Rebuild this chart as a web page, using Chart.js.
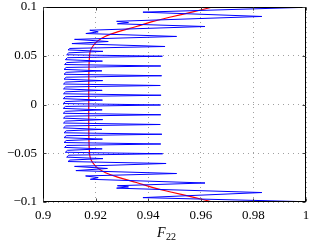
<!DOCTYPE html>
<html>
<head>
<meta charset="utf-8">
<script src="https://cdn.jsdelivr.net/npm/chart.js@4/dist/chart.umd.min.js"></script>
<style>
  html, body { margin: 0; padding: 0; background: #fff; }
  #wrap { width: 316px; height: 250px; }
</style>
</head>
<body>
<div id="wrap"><canvas id="c" width="316" height="250"></canvas></div>
<script>
// axis ticks
const xTicks = [0.9, 0.92, 0.94, 0.96, 0.98, 1];
const xTickLabels = ['0.9', '0.92', '0.94', '0.96', '0.98', '1'];
const yTicks = [-0.1, -0.05, 0, 0.05, 0.1];
const yTickLabels = ['\u22120.1', '\u22120.05', '0', '0.05', '0.1'];

// blue trace (F22, y) from bottom to top
const blueF22 = [
  1.0, 0.938, 0.9832, 0.928, 0.9325, 0.9283, 0.9616, 0.918, 0.921, 0.9162,
  0.9508, 0.9125, 0.9245, 0.912, 0.9468,
  0.9095, 0.9102, 0.9228, 0.909, 0.9098, 0.9455,
  0.9085, 0.9093, 0.9225, 0.9082, 0.909, 0.9448,
  0.908, 0.9088, 0.9226, 0.908, 0.9088, 0.9452,
  0.908, 0.9088, 0.9224, 0.9078, 0.9086, 0.9446,
  0.9078, 0.9086, 0.9227, 0.9078, 0.9086, 0.9448,
  0.9077, 0.9085, 0.9225, 0.9077, 0.9085, 0.9447,
  0.9077, 0.9085, 0.9226, 0.9077, 0.9085, 0.9449,
  0.9078, 0.9086, 0.9225, 0.9078, 0.9086, 0.9446,
  0.9078, 0.9086, 0.9227, 0.908, 0.9088, 0.9451,
  0.908, 0.9088, 0.9224, 0.908, 0.9088, 0.9448,
  0.9082, 0.909, 0.9226, 0.9085, 0.9093, 0.9454,
  0.909, 0.9098, 0.9228, 0.9095, 0.9102, 0.9464,
  0.911, 0.9248, 0.912, 0.9508, 0.9163, 0.921, 0.9178, 0.9616,
  0.9283, 0.9325, 0.928, 0.9832, 0.938, 1.0
];
const blueY = [
  -0.0997, -0.0955, -0.0903, -0.0858, -0.0845, -0.0833, -0.0805, -0.0767, -0.075, -0.0733,
  -0.0708, -0.0678, -0.0656, -0.0635, -0.0605,
  -0.0585, -0.057, -0.0555, -0.054, -0.052, -0.0505,
  -0.049, -0.047, -0.0455, -0.044, -0.042, -0.0405,
  -0.039, -0.037, -0.0355, -0.034, -0.032, -0.0305,
  -0.029, -0.027, -0.0255, -0.024, -0.022, -0.0205,
  -0.019, -0.017, -0.0155, -0.014, -0.012, -0.0105,
  -0.009, -0.007, -0.0055, -0.004, -0.002, -0.0005,
  0.001, 0.003, 0.0045, 0.006, 0.008, 0.0095,
  0.011, 0.013, 0.0145, 0.016, 0.018, 0.0195,
  0.021, 0.023, 0.0245, 0.026, 0.028, 0.0295,
  0.031, 0.033, 0.0345, 0.036, 0.038, 0.0395,
  0.041, 0.043, 0.0445, 0.046, 0.048, 0.0495,
  0.051, 0.053, 0.0545, 0.056, 0.0575, 0.0595,
  0.0625, 0.0646, 0.0668, 0.0698, 0.0728, 0.0745, 0.0762, 0.08,
  0.0828, 0.084, 0.0853, 0.0903, 0.0947, 0.0997
];

// red mean curve
const redF22 = [
  0.9645, 0.957, 0.949, 0.9415, 0.9355, 0.929, 0.9238, 0.9207, 0.919, 0.918, 0.9177,
  0.9175, 0.9174, 0.9174, 0.9174, 0.9175,
  0.9177, 0.918, 0.919, 0.9207, 0.9238, 0.929, 0.9355, 0.9415, 0.949, 0.957, 0.9645
];
const redY = [
  -0.1, -0.095, -0.09, -0.085, -0.08, -0.075, -0.07, -0.065, -0.06, -0.055, -0.05,
  -0.04, -0.02, 0, 0.02, 0.04,
  0.05, 0.055, 0.06, 0.065, 0.07, 0.075, 0.08, 0.085, 0.09, 0.095, 0.1
];

const toPts = (xs, ys) => xs.map((x, i) => ({ x, y: ys[i] }));
const serif = '"Liberation Serif", "DejaVu Serif", serif';

// frame with inward ticks + x label with subscript
const framePlugin = {
  id: 'frame',
  afterDraw(chart) {
    const { ctx, chartArea: a, scales } = chart;
    ctx.save();
    ctx.strokeStyle = '#000';
    ctx.lineWidth = 1;
    ctx.setLineDash([]);
    const L = Math.round(a.left) + 0.5, R = Math.round(a.right) - 0.5;
    const T = Math.round(a.top) + 0.5, B = Math.round(a.bottom) - 0.5;
    ctx.strokeRect(L, T, R - L, B - T);
    ctx.strokeStyle = '#444';
    ctx.beginPath();
    xTicks.forEach(v => {
      const px = Math.round(scales.x.getPixelForValue(v)) + 0.5;
      ctx.moveTo(px, B); ctx.lineTo(px, B - 3);
      ctx.moveTo(px, T); ctx.lineTo(px, T + 3);
    });
    yTicks.forEach(v => {
      const py = Math.round(scales.y.getPixelForValue(v)) + 0.5;
      ctx.moveTo(L, py); ctx.lineTo(L + 3, py);
      ctx.moveTo(R, py); ctx.lineTo(R - 3, py);
    });
    ctx.stroke();
    // axis title F_22
    ctx.fillStyle = '#000';
    ctx.textBaseline = 'alphabetic';
    ctx.font = 'italic 14px ' + serif;
    const fx = 157, fy = 237;
    ctx.fillText('F', fx, fy);
    const w = ctx.measureText('F').width;
    ctx.font = '10px ' + serif;
    ctx.fillText('22', fx + w + 0.5, fy + 3);
    ctx.restore();
  }
};

new Chart(document.getElementById('c'), {
  type: 'scatter',
  data: {
    datasets: [
      {
        data: toPts(blueF22, blueY),
        showLine: true,
        borderColor: '#0000ff',
        borderWidth: 1,
        pointRadius: 0,
        tension: 0
      },
      {
        data: toPts(redF22, redY),
        showLine: true,
        borderColor: '#ff0000',
        borderWidth: 1.2,
        pointRadius: 0,
        tension: 0.4
      }
    ]
  },
  options: {
    responsive: false,
    animation: false,
    layout: { padding: { top: 7, right: 10, left: 0, bottom: 0 } },
    plugins: { legend: { display: false }, tooltip: { enabled: false } },
    scales: {
      x: {
        type: 'linear', min: 0.9, max: 1,
        afterBuildTicks: s => { s.ticks = xTicks.map(v => ({ value: v })); },
        afterFit: s => { s.height = 48; s.paddingLeft = 0; s.paddingRight = 0; },
        ticks: {
          callback: (v) => xTickLabels[xTicks.findIndex(t => Math.abs(t - v) < 1e-9)],
          font: { family: serif, size: 13 }, color: '#000', padding: 6, maxRotation: 0
        },
        grid: { color: '#a0a0a0', lineWidth: 1, drawTicks: false },
        border: { display: false, dash: [1, 4] }
      },
      y: {
        type: 'linear', min: -0.1, max: 0.1,
        afterBuildTicks: s => { s.ticks = yTicks.map(v => ({ value: v })); },
        afterFit: s => { s.width = 43; s.paddingTop = 0; s.paddingBottom = 0; },
        ticks: {
          callback: (v) => yTickLabels[yTicks.findIndex(t => Math.abs(t - v) < 1e-9)],
          font: { family: serif, size: 13 }, color: '#000', padding: 6
        },
        grid: { color: '#a0a0a0', lineWidth: 1, drawTicks: false },
        border: { display: false, dash: [1, 4] }
      }
    }
  },
  plugins: [framePlugin]
});
</script>
</body>
</html>
